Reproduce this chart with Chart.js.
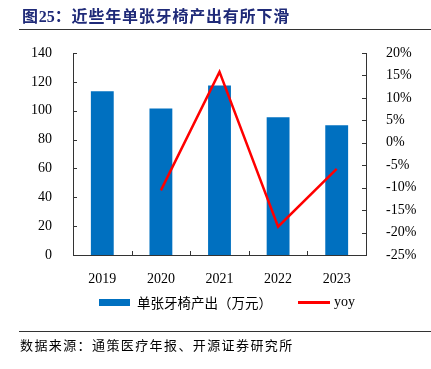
<!DOCTYPE html>
<html>
<head>
<meta charset="utf-8">
<script src="https://cdn.jsdelivr.net/npm/chart.js@4.4.1/dist/chart.umd.min.js"></script>
<style>
  html, body { margin: 0; padding: 0; background: #fff; }
  #wrap { position: relative; width: 431px; height: 369px; overflow: hidden; }
  #c { position: absolute; left: 0; top: 0; }
  .title { position: absolute; left: 22px; top: 5px; font-family: "Noto Sans CJK SC", sans-serif; font-weight: bold; font-size: 16px; letter-spacing: 0.8px; color: #1f2a78; white-space: nowrap; line-height: 20px; }
  .title .num { font-family: "Liberation Serif", serif; font-weight: bold; letter-spacing: 0; }
  .rule { position: absolute; left: 19px; right: 0; height: 1px; background: #333; }
  .legend { position: absolute; top: 292px; left: 0; height: 20px; font-size: 13px; white-space: nowrap; }
  .lg { position: absolute; top: 0; line-height: 20px; }
  .src { position: absolute; left: 20px; top: 336px; font-family: "Noto Sans CJK SC", sans-serif; font-size: 13px; letter-spacing: 1.4px; color: #000; white-space: nowrap; line-height: 18px; }
</style>
</head>
<body>
<div id="wrap">
  <canvas id="c" width="431" height="369"></canvas>
  <div class="title">图<span class="num">25</span>：近些年单张牙椅产出有所下滑</div>
  <div class="rule" style="top:29px"></div>
  <div class="legend">
    <div style="position:absolute; left:99px; top:7px; width:31px; height:7px; background:#0070C0;"></div>
    <div class="lg" style="left:137px; font-family:'Noto Sans CJK SC',sans-serif; font-size:13.5px;">单张牙椅产出（万元）</div>
    <div style="position:absolute; left:298px; top:9px; width:32px; height:3px; background:#FF0000;"></div>
    <div class="lg" style="left:334px; font-family:'Liberation Serif',serif; font-size:14px;">yoy</div>
  </div>
  <div class="rule" style="top:331px"></div>
  <div class="src">数据来源：通策医疗年报、开源证券研究所</div>
</div>
<script>
const categories = ["2019", "2020", "2021", "2022", "2023"];
const outputValues = [113.5, 101.5, 117.5, 95.5, 90];
const yoyValues = [null, -10.6, 15.8, -18.7, -5.8];
const leftAxisMin = 0, leftAxisMax = 140, leftAxisStep = 20;
const rightAxisMin = -25, rightAxisMax = 20, rightAxisStep = 5;

const tickFont = { family: "'Liberation Serif', 'Times New Roman', serif", size: 14 };
const axisColor = '#333333';

const innerTicks = {
  id: 'innerTicks',
  afterDatasetsDraw(chart) {
    const ctx = chart.ctx;
    const L = 4;
    ctx.save();
    ctx.strokeStyle = axisColor;
    ctx.lineWidth = 1;
    ctx.beginPath();
    const yl = chart.scales.y;
    yl.ticks.forEach((t, i) => {
      const y = Math.round(yl.getPixelForTick(i)) + 0.5;
      ctx.moveTo(yl.right, y); ctx.lineTo(yl.right + L, y);
    });
    const yr = chart.scales.y1;
    yr.ticks.forEach((t, i) => {
      const y = Math.round(yr.getPixelForTick(i)) + 0.5;
      ctx.moveTo(yr.left, y); ctx.lineTo(yr.left - L, y);
    });
    const xs = chart.scales.x;
    for (let i = 0; i <= categories.length; i++) {
      const x = Math.round(xs.getPixelForValue(i - 0.5)) + 0.5;
      ctx.moveTo(x, xs.top); ctx.lineTo(x, xs.top - L);
    }
    ctx.stroke();
    ctx.restore();
  }
};

new Chart(document.getElementById('c'), {
  data: {
    labels: categories,
    datasets: [
      {
        type: 'line',
        label: 'yoy',
        data: yoyValues,
        yAxisID: 'y1',
        borderColor: '#FF0000',
        backgroundColor: '#FF0000',
        borderWidth: 2.5,
        pointRadius: 0,
        tension: 0,
        order: 1
      },
      {
        type: 'bar',
        label: '单张牙椅产出（万元）',
        data: outputValues,
        yAxisID: 'y',
        backgroundColor: '#0070C0',
        borderWidth: 0,
        barPercentage: 0.39,
        categoryPercentage: 1.0,
        order: 2
      }
    ]
  },
  options: {
    responsive: false,
    animation: false,
    layout: { padding: { top: 53, bottom: 84, left: 0, right: 0 } },
    plugins: { legend: { display: false }, tooltip: { enabled: false } },
    scales: {
      x: {
        offset: true,
        grid: { display: false },
        border: { display: true, color: axisColor, width: 1 },
        ticks: { font: tickFont, color: '#000', padding: 8, maxRotation: 0 },
        afterFit(s) { s.height = 30; }
      },
      y: {
        position: 'left',
        min: leftAxisMin, max: leftAxisMax,
        grid: { display: false },
        border: { display: true, color: axisColor, width: 1 },
        ticks: { stepSize: leftAxisStep, font: tickFont, color: '#000', padding: 13 },
        afterFit(s) { s.width = 73; }
      },
      y1: {
        position: 'right',
        min: rightAxisMin, max: rightAxisMax,
        grid: { display: false },
        border: { display: true, color: axisColor, width: 1 },
        ticks: { stepSize: rightAxisStep, font: tickFont, color: '#000', padding: 12,
                 callback: v => Math.round(v) + '%' },
        afterFit(s) { s.width = 65; }
      }
    }
  },
  plugins: [innerTicks]
});
</script>
</body>
</html>
